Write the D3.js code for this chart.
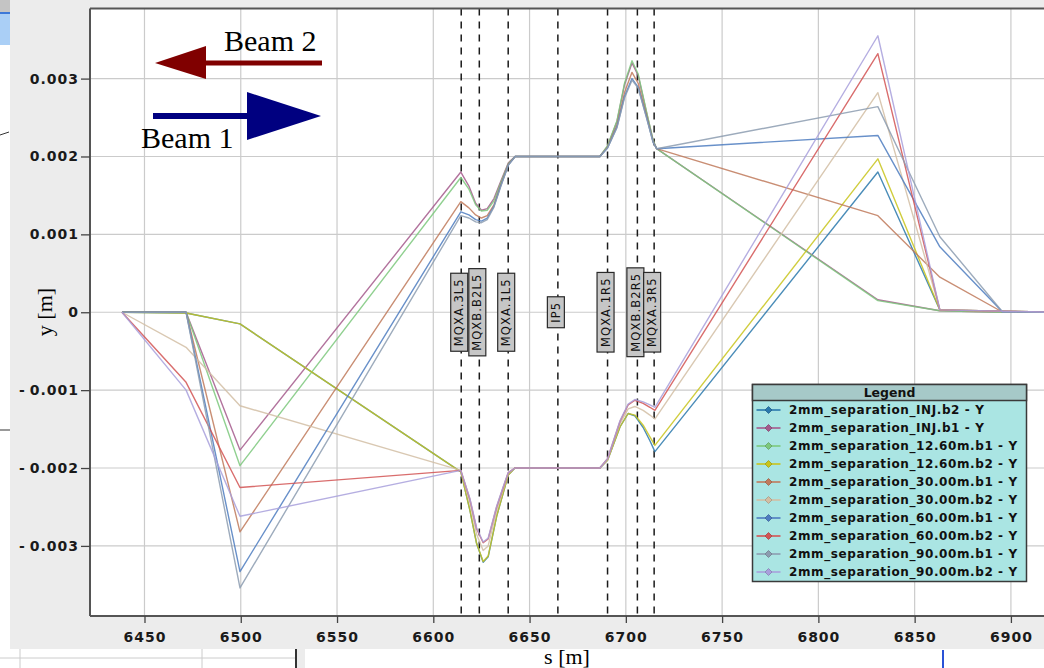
<!DOCTYPE html>
<html>
<head>
<meta charset="utf-8">
<script src="https://cdn.jsdelivr.net/npm/d3@7"></script>
<style>
body { margin: 0; background: #fff; }
svg { display: block; }
</style>
</head>
<body>
<svg id="chart" width="1044" height="668"></svg>
<script>
// ---- data (s in m, y in m) ----
var sB1 = [6438.3, 6471.6, 6499.6, 6614.3, 6618.5, 6622.0, 6625.0, 6628.0, 6631.5, 6635.0, 6639.0, 6642.5,
           6686.5, 6690.5, 6695.4, 6699.3, 6703.2, 6706.4, 6710.8, 6714.2, 6716.0, 6830.9, 6863.1, 6895.8, 6925.0];
var sB2 = [6438.3, 6471.6, 6499.6, 6614.3, 6619.0, 6622.5, 6625.9, 6628.5, 6632.9, 6636.3, 6638.9, 6642.4,
           6686.5, 6690.5, 6697.0, 6701.2, 6704.7, 6709.0, 6712.5, 6715.1, 6830.9, 6863.1, 6925.0];

var injB2 = [0, -0.00001, -0.00015, -0.00205, -0.00254, -0.00297, -0.00321, -0.00314, -0.00262, -0.00232, -0.00209, -0.00200,
             -0.00200, -0.00190, -0.00147, -0.00130, -0.00133, -0.00148, -0.00165, -0.00179, 0.00180, 0.00003, 0];
var injB1 = [0, 0, -0.00177, 0.00180, 0.00162, 0.00140, 0.00131, 0.00133, 0.00146, 0.00168, 0.00192, 0.00200,
             0.00200, 0.00213, 0.00245, 0.00292, 0.00320, 0.00304, 0.00256, 0.00220, 0.00210, 0.00016, 0.00002, 0, 0];
var m1260B1 = [0, 0, -0.00197, 0.00173, 0.00158, 0.00138, 0.00130, 0.00131, 0.00143, 0.00166, 0.00191, 0.00200,
               0.00200, 0.00214, 0.00246, 0.00294, 0.00323, 0.00306, 0.00257, 0.00221, 0.00210, 0.00015, 0.00002, 0, 0];
var m1260B2 = [0, -0.00001, -0.00015, -0.00205, -0.00254, -0.00297, -0.00320, -0.00313, -0.00262, -0.00232, -0.00209, -0.00200,
               -0.00200, -0.00190, -0.00147, -0.00130, -0.00132, -0.00145, -0.00160, -0.00171, 0.00197, 0.00003, 0];
var m30B1 = [0, 0, -0.00282, 0.00142, 0.00134, 0.00125, 0.00121, 0.00124, 0.00138, 0.00163, 0.00190, 0.00200,
             0.00200, 0.00212, 0.00240, 0.00282, 0.00308, 0.00294, 0.00252, 0.00219, 0.00210, 0.00124, 0.00045, 0, 0];
var m30B2 = [0, -0.00045, -0.00120, -0.00203, -0.00245, -0.00285, -0.00306, -0.00300, -0.00255, -0.00228, -0.00207, -0.00200,
             -0.00200, -0.00189, -0.00143, -0.00124, -0.00121, -0.00126, -0.00132, -0.00137, 0.00282, 0.00003, 0];
var m60B1 = [0, 0, -0.00333, 0.00129, 0.00125, 0.00119, 0.00117, 0.00121, 0.00136, 0.00162, 0.00189, 0.00200,
             0.00200, 0.00211, 0.00238, 0.00277, 0.00300, 0.00289, 0.00250, 0.00218, 0.00210, 0.00227, 0.00084, 0, 0];
var m60B2 = [0, -0.00090, -0.00225, -0.00203, -0.00240, -0.00278, -0.00296, -0.00291, -0.00250, -0.00225, -0.00206, -0.00200,
             -0.00200, -0.00188, -0.00140, -0.00119, -0.00113, -0.00117, -0.00122, -0.00126, 0.00332, 0.00003, 0];
var m90B1 = [0, 0, -0.00354, 0.00124, 0.00121, 0.00116, 0.00115, 0.00119, 0.00135, 0.00161, 0.00189, 0.00200,
             0.00200, 0.00211, 0.00237, 0.00275, 0.00298, 0.00288, 0.00249, 0.00218, 0.00210, 0.00264, 0.00097, 0, 0];
var m90B2 = [0, -0.00100, -0.00262, -0.00203, -0.00239, -0.00277, -0.00295, -0.00290, -0.00249, -0.00224, -0.00206, -0.00200,
             -0.00200, -0.00188, -0.00139, -0.00118, -0.00112, -0.00115, -0.00119, -0.00122, 0.00355, 0.00003, 0];

var seriesNames = ["2mm_separation_INJ.b2 - Y", "2mm_separation_INJ.b1 - Y",
                   "2mm_separation_12.60m.b1 - Y", "2mm_separation_12.60m.b2 - Y",
                   "2mm_separation_30.00m.b1 - Y", "2mm_separation_30.00m.b2 - Y",
                   "2mm_separation_60.00m.b1 - Y", "2mm_separation_60.00m.b2 - Y",
                   "2mm_separation_90.00m.b1 - Y", "2mm_separation_90.00m.b2 - Y"];
var seriesValues = [injB2, injB1, m1260B1, m1260B2, m30B1, m30B2, m60B1, m60B2, m90B1, m90B2];
var seriesS = [sB2, sB1, sB1, sB2, sB1, sB2, sB1, sB2, sB1, sB2];
var seriesColors = ["#2a78ac", "#a45a8c", "#7cc87c", "#c8c41c", "#c07a5c",
                    "#d2bea4", "#4e7cc0", "#d25454", "#8c9cb0", "#a8a0dc"];

var magnetNames = ["MQXA.3L5", "MQXB.B2L5", "MQXA.1L5", "IP5", "MQXA.1R5", "MQXB.B2R5", "MQXA.3R5"];
var magnetS = [6614.5, 6623.9, 6638.9, 6664.7, 6690.5, 6706.0, 6714.7];

var xTicks = [6450, 6500, 6550, 6600, 6650, 6700, 6750, 6800, 6850, 6900];
var yTicks = [-0.003, -0.002, -0.001, 0, 0.001, 0.002, 0.003];

// ---- layout ----
var plotL = 90, plotR = 1050, plotT = 8.5, plotB = 616;
var svg = d3.select("#chart");

var x = d3.scaleLinear().domain([6421.7, 6920.3]).range([plotL, plotR]);
var y = d3.scaleLinear().domain([-0.0039, 0.0039]).range([plotB, plotT]);

// window furniture around the screenshot
svg.append("rect").attr("x", 0).attr("y", 0).attr("width", 1044).attr("height", 668).style("fill", "#fff");
svg.append("rect").attr("x", 10).attr("y", 0).attr("width", 1034).attr("height", 649).style("fill", "#ececec");
svg.append("rect").attr("x", 0).attr("y", 0).attr("width", 10).attr("height", 12).style("fill", "#c4c4c4");
svg.append("rect").attr("x", 0).attr("y", 12).attr("width", 10).attr("height", 2).style("fill", "#3c78d8");
svg.append("rect").attr("x", 0).attr("y", 14).attr("width", 10).attr("height", 31).style("fill", "#aacff6");
svg.append("line").attr("x1", 0).attr("y1", 135).attr("x2", 9).attr("y2", 132).style("stroke", "#333");
svg.append("line").attr("x1", 0).attr("y1", 430).attr("x2", 10).attr("y2", 430).style("stroke", "#999").style("stroke-width", 2);
svg.append("line").attr("x1", 0).attr("y1", 658).attr("x2", 296).attr("y2", 658).style("stroke", "#ccc");
svg.append("line").attr("x1", 20).attr("y1", 649).attr("x2", 20).attr("y2", 668).style("stroke", "#ccc");
svg.append("line").attr("x1", 202).attr("y1", 649).attr("x2", 202).attr("y2", 668).style("stroke", "#ccc");
svg.append("line").attr("x1", 296).attr("y1", 649).attr("x2", 296).attr("y2", 668).style("stroke", "#333").style("stroke-width", 2);
svg.append("rect").attr("x", 297).attr("y", 649).attr("width", 8).attr("height", 19).style("fill", "#ececec");
svg.append("line").attr("x1", 943).attr("y1", 650).attr("x2", 943).attr("y2", 668).style("stroke", "#2a52d6").style("stroke-width", 2);

// plot background
svg.append("rect").attr("x", plotL).attr("y", plotT).attr("width", plotR - plotL).attr("height", plotB - plotT).style("fill", "#fff");

svg.append("clipPath").attr("id", "clip")
  .append("rect").attr("x", plotL).attr("y", plotT).attr("width", plotR - plotL).attr("height", plotB - plotT);

// grid
var grid = svg.append("g").attr("clip-path", "url(#clip)");
grid.selectAll(".vgrid").data(xTicks).enter().append("line")
  .attr("x1", function(d) { return x(d); }).attr("x2", function(d) { return x(d); })
  .attr("y1", plotT).attr("y2", plotB)
  .style("stroke", "#cbcbcb").style("stroke-width", 1.2);
grid.selectAll(".hgrid").data(yTicks).enter().append("line")
  .attr("x1", plotL).attr("x2", plotR)
  .attr("y1", function(d) { return y(d); }).attr("y2", function(d) { return y(d); })
  .style("stroke", "#cbcbcb").style("stroke-width", 1.2);

// magnet markers (dashed)
grid.selectAll(".mag").data(magnetS).enter().append("line")
  .attr("x1", function(d) { return x(d); }).attr("x2", function(d) { return x(d); })
  .attr("y1", plotT).attr("y2", plotB)
  .style("stroke", "#1a1a1a").style("stroke-width", 1.5).style("stroke-dasharray", "7,6");

// orbit lines
var line = d3.line()
  .x(function(d) { return x(d[0]); })
  .y(function(d) { return y(d[1]); });

var lines = svg.append("g").attr("clip-path", "url(#clip)");
seriesValues.forEach(function(vals, i) {
  var pts = vals.map(function(v, k) { return [seriesS[i][k], v]; });
  lines.append("path")
    .attr("d", line(pts))
    .style("fill", "none")
    .style("stroke", seriesColors[i])
    .style("stroke-width", 1.4)
    .style("stroke-opacity", 0.85)
    .style("stroke-linejoin", "round");
});

// magnet labels
var labels = svg.append("g");
magnetNames.forEach(function(name, i) {
  var g = labels.append("g").attr("transform", "translate(" + (x(magnetS[i]) - 2) + "," + y(0) + ")");
  var box = g.append("rect");
  var t = g.append("text")
    .attr("transform", "rotate(-90)")
    .attr("text-anchor", "middle")
    .attr("dy", "0.36em")
    .style("font-family", "DejaVu Sans, sans-serif")
    .style("font-size", "11.5px")
    .style("letter-spacing", "1.1px")
    .style("fill", "#111")
    .text(name);
  var len = t.node().getComputedTextLength();
  var h = len + 10;
  box.attr("x", -8.5).attr("y", -h / 2).attr("width", 17).attr("height", h)
    .style("fill", "#c6c6c6").style("stroke", "#2a2a2a").style("stroke-width", 1.2);
});

// border
svg.append("line").attr("x1", plotL).attr("y1", plotT).attr("x2", 1044).attr("y2", plotT).style("stroke", "#555").style("stroke-width", 2);
svg.append("line").attr("x1", plotL).attr("y1", plotT).attr("x2", plotL).attr("y2", plotB).style("stroke", "#555").style("stroke-width", 2);
svg.append("line").attr("x1", plotL).attr("y1", plotB).attr("x2", 1044).attr("y2", plotB).style("stroke", "#555").style("stroke-width", 2);

// axes
var yAxis = svg.append("g").attr("transform", "translate(" + plotL + ",0)")
  .call(d3.axisLeft(y).tickValues(yTicks).tickSize(9).tickPadding(2)
    .tickFormat(function(d) {
      if (d === 0) return "0";
      return d < 0 ? "-\u2009" + (-d).toFixed(3) : d.toFixed(3);
    }));
var xAxis = svg.append("g").attr("transform", "translate(0," + plotB + ")")
  .call(d3.axisBottom(x).tickValues(xTicks).tickSize(7).tickPadding(9).tickFormat(d3.format("d")));
[yAxis, xAxis].forEach(function(a) {
  a.select(".domain").remove();
  a.selectAll(".tick line").style("stroke", "#444").style("stroke-width", 1.3);
  a.selectAll(".tick text")
    .style("font-family", "DejaVu Sans, sans-serif")
    .style("font-size", "14px")
    .style("font-weight", "bold")
    .style("letter-spacing", "1px")
    .style("fill", "#1a1a1a");
});

// axis titles
svg.append("text")
  .attr("transform", "translate(52,312) rotate(-90)")
  .attr("text-anchor", "middle")
  .style("font-family", "Liberation Serif, Times New Roman, serif")
  .style("font-size", "22px")
  .text("y [m]");
svg.append("text")
  .attr("x", 567).attr("y", 664)
  .attr("text-anchor", "middle")
  .style("font-family", "Liberation Serif, Times New Roman, serif")
  .style("font-size", "22px")
  .text("s [m]");

// beam direction arrows
var beams = svg.append("g");
beams.append("rect").attr("x", 204).attr("y", 60.5).attr("width", 118).attr("height", 5).style("fill", "#800000");
beams.append("polygon").attr("points", "155,63 206,46 206,79").style("fill", "#800000");
beams.append("text").attr("x", 224).attr("y", 51)
  .style("font-family", "Liberation Serif, Times New Roman, serif").style("font-size", "30px").text("Beam 2");
beams.append("rect").attr("x", 153).attr("y", 113).attr("width", 96).attr("height", 6).style("fill", "#000080");
beams.append("polygon").attr("points", "247,92 321,116 247,140").style("fill", "#000080");
beams.append("text").attr("x", 141).attr("y", 148)
  .style("font-family", "Liberation Serif, Times New Roman, serif").style("font-size", "30px").text("Beam 1");

// legend
var lg = svg.append("g").attr("transform", "translate(752.5,384.5)");
var lgW = 274, rowH = 18, titleH = 16;
lg.append("rect").attr("width", lgW).attr("height", titleH + rowH * seriesNames.length + 1)
  .style("fill", "#aae5e3").style("stroke", "#3a3a3a").style("stroke-width", 1.5);
lg.append("rect").attr("width", lgW).attr("height", titleH)
  .style("fill", "#a6c9c8").style("stroke", "#3a3a3a").style("stroke-width", 1.5);
lg.append("text").attr("x", 137).attr("y", 8).attr("dy", "0.36em").attr("text-anchor", "middle")
  .style("font-family", "DejaVu Sans, sans-serif").style("font-size", "12.5px").style("font-weight", "bold")
  .style("fill", "#111").text("Legend");

var rows = lg.selectAll(".row").data(seriesNames).enter().append("g")
  .attr("transform", function(d, i) { return "translate(0," + (titleH + rowH * i + 9.5) + ")"; });
rows.append("line").attr("x1", 4).attr("x2", 28).attr("y1", 0).attr("y2", 0)
  .style("stroke", function(d, i) { return seriesColors[i]; }).style("stroke-width", 1.6);
rows.append("path").attr("d", "M16,-3.5L19.5,0L16,3.5L12.5,0Z")
  .style("fill", function(d, i) { return seriesColors[i]; })
  .style("stroke", function(d, i) { return d3.color(seriesColors[i]).darker(0.6); })
  .style("stroke-width", 0.8);
rows.append("text").attr("x", 36.5).attr("y", 0).attr("dy", "0.36em")
  .style("font-family", "DejaVu Sans, sans-serif").style("font-size", "12px").style("font-weight", "bold")
  .style("letter-spacing", "0.6px").style("fill", "#111")
  .text(function(d) { return d; });
</script>
</body>
</html>
